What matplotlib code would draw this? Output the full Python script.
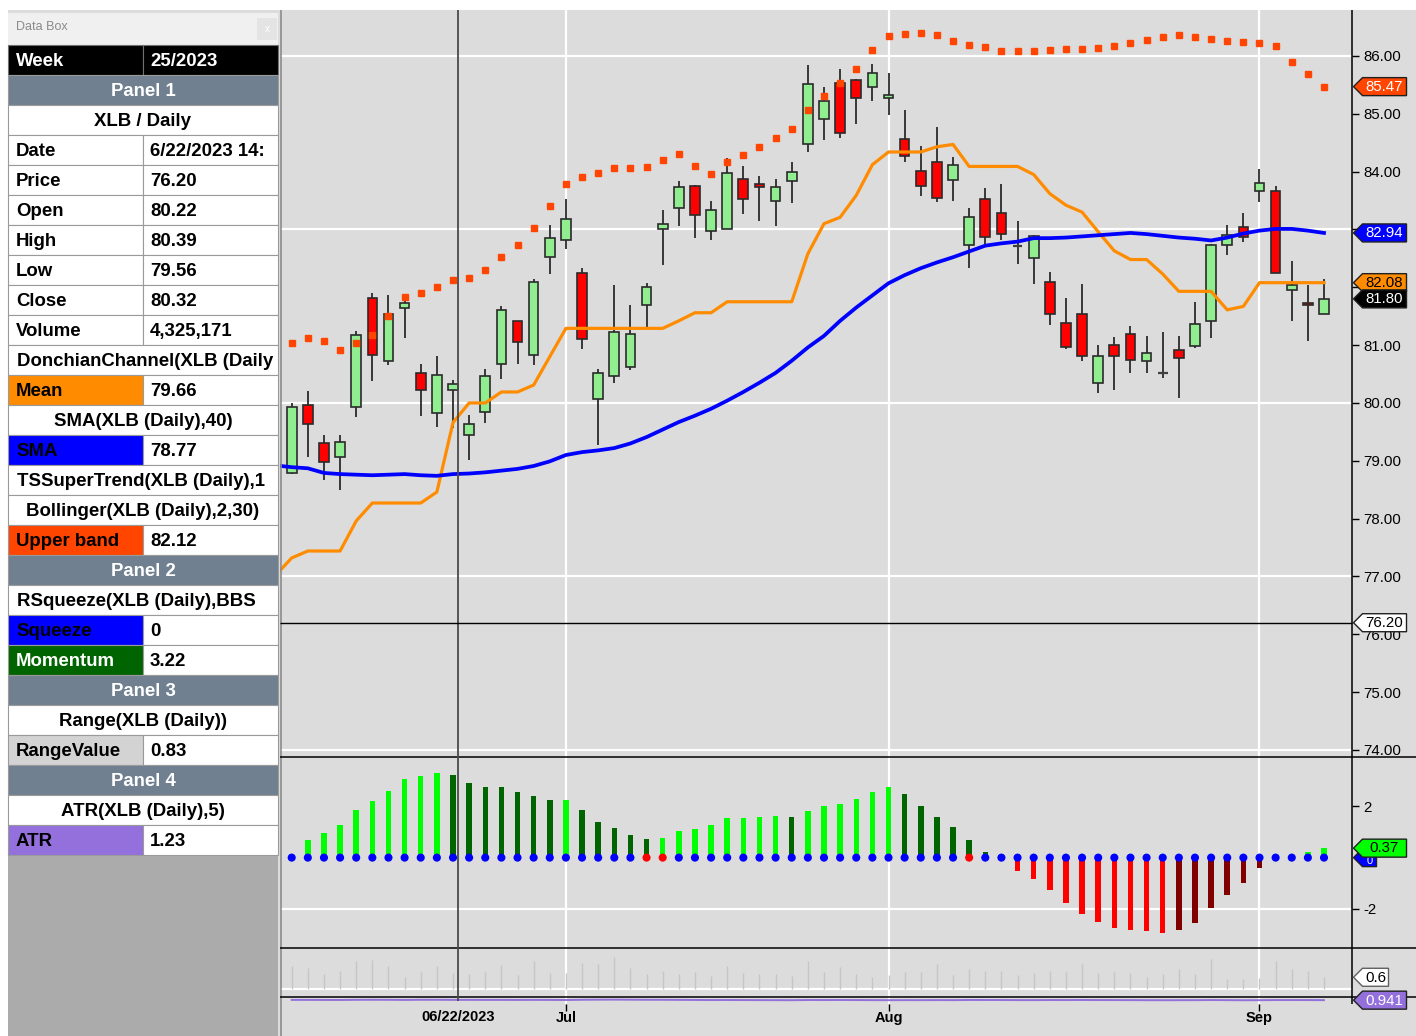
import numpy as np
import pandas as pd
import matplotlib
matplotlib.use("Agg")
import matplotlib.pyplot as plt
from matplotlib.patches import Rectangle, Polygon

plt.rcParams['font.family'] = ['Liberation Sans', 'DejaVu Sans']

# ---------------- data ----------------
dates = pd.bdate_range("2023-06-07", "2023-09-08", freq="C",
                       holidays=["2023-06-19", "2023-07-04", "2023-09-04"])

opens = [78.79, 79.97, 79.31, 79.06, 79.93, 81.81, 80.73, 81.65, 80.51, 79.83,
         80.22, 79.45, 79.85, 80.67, 81.41, 80.83, 82.53, 82.81, 82.25, 80.07,
         80.47, 80.63, 81.69, 83.01, 83.37, 83.76, 82.97, 83.01, 83.87, 83.79,
         83.49, 83.83, 84.47, 84.91, 85.53, 85.59, 85.47, 85.28, 84.56, 84.01,
         84.17, 83.85, 82.73, 83.53, 83.29, 82.71, 82.51, 82.10, 81.39, 81.53,
         80.35, 81.01, 81.19, 80.73, 80.52, 80.91, 80.99, 81.41, 82.73, 83.05,
         83.67, 83.67, 81.95, 81.73, 81.53]
highs = [80.00, 80.20, 79.44, 79.44, 81.24, 81.90, 81.86, 81.77, 80.67, 80.81,
         80.39, 79.80, 80.58, 81.68, 81.42, 82.14, 83.08, 83.53, 82.34, 80.58,
         82.04, 81.70, 82.08, 83.34, 83.83, 83.77, 83.50, 84.24, 84.09, 83.92,
         83.87, 84.16, 85.84, 85.46, 85.77, 85.61, 85.86, 85.70, 85.06, 84.45,
         84.77, 84.25, 83.37, 83.72, 83.78, 83.14, 82.90, 82.27, 81.82, 82.06,
         81.00, 81.14, 81.33, 81.16, 81.23, 81.16, 81.75, 82.75, 83.08, 83.28,
         84.04, 83.76, 82.46, 82.04, 82.14]
lows = [78.78, 79.07, 78.67, 78.49, 79.75, 80.38, 80.66, 81.12, 79.77, 79.59,
        79.56, 79.02, 79.66, 80.41, 80.68, 80.65, 82.23, 82.67, 80.94, 79.27,
        80.35, 80.57, 81.30, 82.38, 83.06, 82.86, 82.81, 83.00, 83.26, 83.15,
        83.06, 83.46, 84.34, 84.54, 84.59, 84.82, 85.23, 84.98, 84.16, 83.58,
        83.47, 83.49, 82.33, 82.75, 82.81, 82.41, 82.05, 81.34, 80.94, 80.73,
        80.17, 80.23, 80.51, 80.52, 80.43, 80.08, 80.95, 81.13, 82.56, 82.78,
        83.48, 82.25, 81.42, 81.08, 81.53]
closes = [79.93, 79.63, 78.98, 79.33, 81.17, 80.83, 81.54, 81.73, 80.23, 80.49,
          80.32, 79.63, 80.47, 81.61, 81.06, 82.10, 82.86, 83.18, 81.11, 80.51,
          81.22, 81.19, 82.01, 83.09, 83.73, 83.25, 83.33, 83.97, 83.53, 83.73,
          83.73, 84.00, 85.51, 85.23, 84.67, 85.27, 85.71, 85.33, 84.27, 83.75,
          83.54, 84.11, 83.21, 82.87, 82.93, 82.71, 82.89, 81.53, 80.97, 80.81,
          80.81, 80.81, 80.75, 80.87, 80.52, 80.77, 81.37, 82.73, 82.90, 82.87,
          83.81, 82.25, 82.04, 81.70, 81.80]

# lines start one bar before the first visible candle
sma40 = [78.92, 78.89, 78.87, 78.79, 78.77, 78.76, 78.75, 78.76, 78.77, 78.75,
         78.74, 78.77, 78.78, 78.80, 78.83, 78.86, 78.91, 78.99, 79.10, 79.15,
         79.18, 79.22, 79.30, 79.41, 79.54, 79.67, 79.78, 79.90, 80.04, 80.19,
         80.35, 80.52, 80.73, 80.96, 81.16, 81.42, 81.65, 81.86, 82.07, 82.21,
         82.33, 82.43, 82.52, 82.62, 82.72, 82.76, 82.79, 82.85, 82.85, 82.86,
         82.88, 82.90, 82.92, 82.94, 82.92, 82.89, 82.86, 82.84, 82.81, 82.86,
         82.93, 82.98, 83.01, 83.01, 82.98, 82.94]
donchian_mean = [77.02, 77.32, 77.44, 77.44, 77.44, 77.96, 78.27, 78.27, 78.27, 78.27,
                 78.46, 79.66, 80.00, 80.00, 80.19, 80.19, 80.31, 80.80, 81.29, 81.29,
                 81.29, 81.29, 81.29, 81.29, 81.29, 81.42, 81.56, 81.56, 81.75, 81.75,
                 81.75, 81.75, 81.75, 82.58, 83.10, 83.21, 83.59, 84.12, 84.34, 84.34,
                 84.34, 84.43, 84.47, 84.09, 84.09, 84.09, 84.09, 83.95, 83.62, 83.42,
                 83.30, 82.96, 82.63, 82.48, 82.48, 82.23, 81.93, 81.93, 81.93, 81.61,
                 81.67, 82.08, 82.08, 82.08, 82.08, 82.08]
upper_band = [81.04, 81.12, 81.07, 80.92, 81.04, 81.18, 81.50, 81.84, 81.90, 82.00,
              82.12, 82.16, 82.30, 82.52, 82.74, 83.02, 83.40, 83.78, 83.90, 83.98,
              84.06, 84.06, 84.08, 84.20, 84.30, 84.10, 83.96, 84.16, 84.28, 84.42,
              84.58, 84.74, 85.06, 85.30, 85.53, 85.78, 86.10, 86.34, 86.38, 86.40,
              86.36, 86.26, 86.19, 86.16, 86.08, 86.08, 86.08, 86.10, 86.12, 86.12,
              86.14, 86.17, 86.23, 86.28, 86.32, 86.36, 86.33, 86.29, 86.26, 86.24,
              86.23, 86.17, 85.90, 85.69, 85.47]
momentum = [0.00, 0.68, 0.95, 1.26, 1.85, 2.21, 2.60, 3.06, 3.20, 3.30,
            3.22, 2.93, 2.76, 2.74, 2.57, 2.40, 2.24, 2.26, 1.85, 1.39,
            1.17, 0.90, 0.73, 0.78, 1.04, 1.12, 1.26, 1.54, 1.55, 1.58,
            1.63, 1.58, 1.81, 2.03, 2.09, 2.29, 2.57, 2.75, 2.48, 2.03,
            1.58, 1.21, 0.68, 0.22, 0.03, -0.53, -0.84, -1.26, -1.76, -2.20,
            -2.52, -2.75, -2.84, -2.88, -2.93, -2.84, -2.57, -1.98, -1.45, -0.99,
            -0.40, -0.03, 0.03, 0.22, 0.37]
squeeze = [0] * 22 + [1, 1] + [0] * 18 + [1] + [0] * 22
crosshair_price = 76.20
crosshair_bar = 10
atr_tag_text = "0.941"

databox_rows = [
    ("Week", "25/2023", "week"),
    ("Panel 1", None, "panel"),
    ("XLB / Daily", None, "head"),
    ("Date", "6/22/2023 14:", None),
    ("Price", "76.20", None),
    ("Open", "80.22", None),
    ("High", "80.39", None),
    ("Low", "79.56", None),
    ("Close", "80.32", None),
    ("Volume", "4,325,171", None),
    ("DonchianChannel(XLB (Daily", None, "headleft"),
    ("Mean", "79.66", "#FF8C00"),
    ("SMA(XLB (Daily),40)", None, "head"),
    ("SMA", "78.77", "#0000FF"),
    ("TSSuperTrend(XLB (Daily),1", None, "headleft"),
    ("Bollinger(XLB (Daily),2,30)", None, "head"),
    ("Upper band", "82.12", "#FF4500"),
    ("Panel 2", None, "panel"),
    ("RSqueeze(XLB (Daily),BBS", None, "headleft"),
    ("Squeeze", "0", "#0000FF"),
    ("Momentum", "3.22", "#006400"),
    ("Panel 3", None, "panel"),
    ("Range(XLB (Daily))", None, "head"),
    ("RangeValue", "0.83", "#D3D3D3"),
    ("Panel 4", None, "panel"),
    ("ATR(XLB (Daily),5)", None, "head"),
    ("ATR", "1.23", "#9370DB"),
]

# ---------------- derived ----------------
o = np.array(opens); h = np.array(highs); l = np.array(lows); c = np.array(closes)
n = len(o)
xs = np.arange(n)
xl = np.arange(-1, n)
rng = h - l
prev_c = np.r_[c[0], c[:-1]]
tr = np.maximum.reduce([h - l, np.abs(h - prev_c), np.abs(l - prev_c)])
atr = pd.Series(tr).ewm(alpha=1 / 5, adjust=False).mean().values
mom = np.array(momentum)

# ---------------- figure ----------------
W, H, DPI = 1416, 1036, 100
BG = '#DCDCDC'
fig = plt.figure(figsize=(W / DPI, H / DPI), dpi=DPI, facecolor=BG)


def px_axes(x0, y0, x1, y1):
    a = fig.add_axes([x0 / W, 1 - y1 / H, (x1 - x0) / W, (y1 - y0) / H])
    a.set_facecolor(BG)
    for s in a.spines.values():
        s.set_visible(False)
    return a


AX_L, AX_R = 280, 1352
ax = px_axes(AX_L, 10, AX_R, 757)
axm = px_axes(AX_L, 757, AX_R, 948)
axr = px_axes(AX_L, 948, AX_R, 997)
axa = px_axes(AX_L, 997, AX_R, 1004)
ov = fig.add_axes([0, 0, 1, 1])
ov.set_xlim(0, W); ov.set_ylim(H, 0); ov.axis('off'); ov.set_zorder(10)

XLIM = (-0.725, 65.735)
for a in (ax, axm, axr, axa):
    a.set_xlim(*XLIM)
    a.set_xticks([])
ax.set_ylim(73.878, 86.795)
axm.set_ylim(-3.53, 3.93)
axr.set_ylim(-0.454, 2.19)
axa.set_ylim(atr.mean() - 4, atr.mean() + 3)

month_idx = [i for i in range(1, n) if dates[i].month != dates[i - 1].month]
GRID = dict(color='white', lw=1.6, zorder=0.5)
for a in (ax, axm, axr, axa):
    for i in month_idx:
        a.axvline(i, **GRID)
for v in (86, 83, 80, 77, 74):
    ax.axhline(v, **GRID)
axm.axhline(-2, **GRID)
axr.axhline(0, **GRID)

# ---- candles ----
EDGE = '#2b2b2b'
ax.vlines(xs, l, h, color=EDGE, lw=1.3, zorder=2)
up = c > o
dn = c < o
ax.bar(xs[up], (c - o)[up], bottom=o[up], width=0.6, color='#90EE90',
       edgecolor=EDGE, linewidth=1.2, zorder=3)
ax.bar(xs[dn], (o - c)[dn], bottom=c[dn], width=0.6, color='#FF0000',
       edgecolor=EDGE, linewidth=1.2, zorder=3)
eq = c == o
ax.hlines(c[eq], xs[eq] - 0.3, xs[eq] + 0.3, color='#404040', lw=1.6, zorder=3)

# ---- indicators ----
ax.plot(xl, donchian_mean, color='#FF8C00', lw=2.3, zorder=4, solid_joinstyle='round')
ax.plot(xl, sma40, color='#0000FF', lw=2.7, zorder=4)
ax.plot(xs, upper_band, ls='none', marker='s', ms=4.2, color='#FF4500',
        mec='#FF4500', zorder=5)

# tag values on the right axis (the tags cover the tick labels next to them)
tag_vals = [upper_band[-1], sma40[-1], donchian_mean[-1], closes[-1]]
ticks = np.arange(74, 87)
tick_lbls = [("" if min(abs(v - t) for t in tag_vals) < 0.2 else f"{v:.2f}") for v in ticks]

ax.yaxis.tick_right()
ax.set_yticks(ticks)
ax.set_yticklabels(tick_lbls)
ax.tick_params(axis='y', direction='out', length=5, width=1, labelsize=10.8, pad=3,
               colors='black')

# ---- momentum ----
prev = np.r_[0.0, mom[:-1]]
mcol = np.where(mom >= 0, np.where(mom >= prev, '#00FF00', '#006400'),
                np.where(mom <= prev, '#FF0000', '#800000'))
axm.bar(xs, mom, width=0.34, color=mcol, zorder=2)
dcol = np.where(np.array(squeeze) == 1, '#FF0000', '#0000FF')
axm.scatter(xs, np.zeros(n), s=34, c=dcol, zorder=3, linewidths=0)
axm.yaxis.tick_right()
axm.set_yticks([-2, 2])
axm.set_yticklabels(['-2', '2'])
axm.tick_params(axis='y', direction='out', length=5, width=1, labelsize=10.8, pad=3)

# ---- range ----
axr.vlines(xs, 0, rng, color='#c6c6c6', lw=1.0, zorder=2)
axr.set_yticks([])

# ---- atr ----
axa.plot(xs, atr, color='#9370DB', lw=1.4)
axa.set_yticks([])
axa.set_xticks(month_idx)
axa.set_xticklabels([dates[i].strftime('%b') for i in month_idx])
axa.tick_params(axis='x', direction='out', length=5, width=1, labelsize=10.5, pad=0)
for t in axa.get_xticklabels():
    t.set_fontweight('bold')


# ---------------- overlay ----------------
def to_ov(a, x, y):
    d = a.transData.transform((x, y))
    return ov.transData.inverted().transform(d)


# top white strip and left margin
ov.add_patch(Rectangle((0, 0), W, 9.5, fc='white', ec='none', zorder=1))
ov.add_patch(Rectangle((0, 0), 8, H, fc='white', ec='none', zorder=1))
ov.vlines(AX_L + 0.5, 9.5, H, color='#8c8c8c', lw=1.2, zorder=2)

# panel separators / right axis line
for yy in (757, 948, 997):
    ov.hlines(yy, AX_L, W, color='black', lw=1.1, zorder=3)
ov.vlines(AX_R, 9.5, 1004, color='black', lw=1.1, zorder=3)

# crosshair
cx, _ = to_ov(ax, crosshair_bar + 0.3, 80)
ov.vlines(cx, 9.5, 1001, color='#4a4a4a', lw=1.3, zorder=3)
_, cy = to_ov(ax, 0, crosshair_price)
ov.hlines(cy, AX_L, AX_R, color='black', lw=1.0, zorder=3)
ov.text(cx, 1017, dates[crosshair_bar].strftime('%m/%d/%Y'), ha='center', va='center',
        fontsize=10.5, fontweight='bold', zorder=4)


def tag(a, yval, text, fc, tc, ec='#202020', w=44, hgt=18, z=6, fs=10.8, dy=0.5):
    _, y0 = to_ov(a, 0, yval)
    x0 = AX_R + 1.5
    pts = [(x0, y0), (x0 + 9, y0 - hgt / 2), (x0 + 9 + w, y0 - hgt / 2),
           (x0 + 9 + w, y0 + hgt / 2), (x0 + 9, y0 + hgt / 2)]
    ov.add_patch(Polygon(pts, closed=True, fc=fc, ec=ec, lw=1.0, zorder=z))
    ov.text(x0 + 9 + w / 2, y0 + dy, text, ha='center', va='center', color=tc,
            fontsize=fs, zorder=z + 0.5)


tag(ax, upper_band[-1], f"{upper_band[-1]:.2f}", '#FF4500', 'white')
tag(ax, sma40[-1], f"{sma40[-1]:.2f}", '#0000FF', 'white')
tag(ax, donchian_mean[-1], f"{donchian_mean[-1]:.2f}", '#FF8C00', 'black')
tag(ax, closes[-1], f"{closes[-1]:.2f}", 'black', 'white')
tag(ax, crosshair_price, f"{crosshair_price:.2f}", 'white', 'black')
# squeeze tag sits behind the momentum tag; only its lower part shows
tag(axm, 0, f"{squeeze[-1]}", '#0000FF', 'white', w=14, fs=8, dy=3.5)
tag(axm, mom[-1], f"{mom[-1]:.2f}", '#00FF00', 'black', z=7, dy=-0.5)
tag(axr, rng[-1], f"{rng[-1]:.1f}", 'white', 'black', ec='#606060', w=26)
tag(axa, atr[-1], atr_tag_text, '#9370DB', 'white')

# ---------------- data box ----------------
DB_L, DB_M, DB_R = 8, 143, 278
ov.add_patch(Rectangle((DB_L, 13), DB_R - DB_L, 32, fc='#F0F0F0', ec='none', zorder=1))
ov.text(16, 27, "Data Box", ha='left', va='center', fontsize=9, color='#8a8a8a', zorder=2)
ov.add_patch(Rectangle((257, 18), 20, 22, fc='#E4E4E4', ec='none', zorder=2))
ov.text(267, 29, "x", ha='center', va='center', fontsize=7, color='white', zorder=3)
ROW0, ROWH = 45, 30
nrows = len(databox_rows)
tab_bottom = ROW0 + ROWH * nrows
ov.add_patch(Rectangle((DB_L, tab_bottom), DB_R - DB_L, H - tab_bottom, fc='#ABABAB',
                       ec='none', zorder=1))
FS = 13.4
FW = 'bold'
GRIDC = '#9a9a9a'
for k, (lt, rt, sty) in enumerate(databox_rows):
    top = ROW0 + k * ROWH
    yc = top + ROWH / 2 + 1.5
    if sty == 'week':
        for x0, x1 in ((DB_L, DB_M), (DB_M, DB_R)):
            ov.add_patch(Rectangle((x0, top), x1 - x0, ROWH, fc='black', ec='#707070',
                                   lw=0.8, zorder=2))
        ov.text(16, yc, lt, ha='left', va='center', color='white', fontsize=FS,
                fontweight=FW, zorder=3)
        ov.text(150, yc, rt, ha='left', va='center', color='white', fontsize=FS,
                fontweight=FW, zorder=3)
    elif sty == 'panel':
        ov.add_patch(Rectangle((DB_L, top), DB_R - DB_L, ROWH, fc='#708090', ec=GRIDC,
                               lw=0.8, zorder=2))
        ov.text((DB_L + DB_R) / 2, yc, lt, ha='center', va='center', color='white',
                fontsize=FS, fontweight=FW, zorder=3)
    elif sty in ('head', 'headleft'):
        r = Rectangle((DB_L, top), DB_R - DB_L, ROWH, fc='white', ec=GRIDC, lw=0.8, zorder=2)
        ov.add_patch(r)
        if sty == 'head':
            ov.text((DB_L + DB_R) / 2, yc, lt, ha='center', va='center', color='black',
                    fontsize=FS, fontweight=FW, zorder=3)
        else:
            t = ov.text(17, yc, lt, ha='left', va='center', color='black', fontsize=FS,
                        fontweight=FW, zorder=3)
            t.set_clip_path(r)
    else:
        lfc = sty if sty else 'white'
        ltc = 'white' if sty == '#006400' else 'black'
        ov.add_patch(Rectangle((DB_L, top), DB_M - DB_L, ROWH, fc=lfc, ec=GRIDC, lw=0.8,
                               zorder=2))
        rr = Rectangle((DB_M, top), DB_R - DB_M, ROWH, fc='white', ec=GRIDC, lw=0.8, zorder=2)
        ov.add_patch(rr)
        ov.text(16, yc, lt, ha='left', va='center', color=ltc, fontsize=FS,
                fontweight=FW, zorder=3)
        t = ov.text(150, yc, rt, ha='left', va='center', color='black', fontsize=FS,
                    fontweight=FW, zorder=3)
        t.set_clip_path(rr)

fig.savefig("out.png", dpi=DPI, facecolor=BG)
